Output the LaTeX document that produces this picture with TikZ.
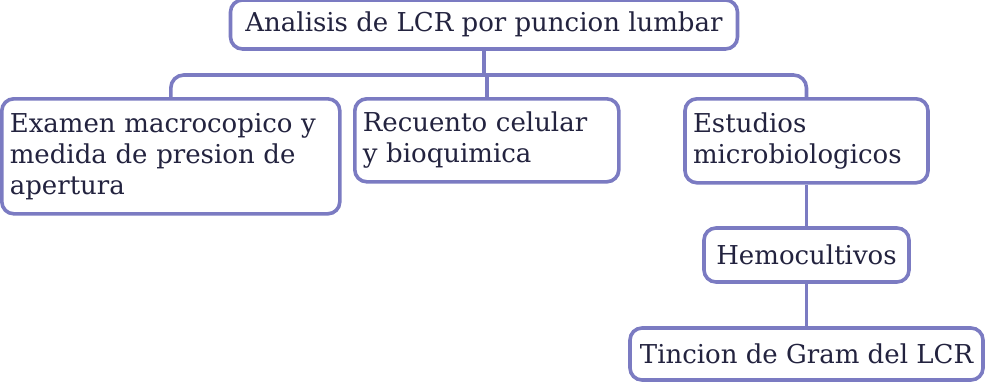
\documentclass[tikz,border=0pt]{standalone}
\usepackage{fontspec}
\setmainfont{DejaVu Serif}
\definecolor{edge}{HTML}{7B7BC2}
\definecolor{ink}{HTML}{23233F}
\begin{document}
\begin{tikzpicture}[x=1pt,y=1pt,
  box/.style={draw=edge, line width=3.6pt, fill=white, rounded corners=12pt, text=ink,
    font=\fontsize{26}{31}\selectfont, align=left, inner xsep=8pt, inner ysep=0pt},
  link/.style={draw=edge, line width=3.6pt, rounded corners=13pt}]
\useasboundingbox (0,0) rectangle (987,-381);
\node[box, minimum width=507pt, minimum height=49pt, align=center] (top) at (484,-24.5) {Analisis de LCR por puncion lumbar};
\node[box, minimum width=338pt, minimum height=115pt, text width=322pt, anchor=north west] (left) at (0,-97) {Examen macrocopico y\\medida de presion de\\apertura};
\node[box, minimum width=264pt, minimum height=83pt, text width=248pt, anchor=north west] (mid) at (353,-97) {Recuento celular\\y bioquimica};
\node[box, minimum width=243pt, minimum height=84pt, text width=227pt, anchor=north] (right) at (806.5,-97) {Estudios\\microbiologicos};
\node[box, minimum width=205pt, minimum height=54pt, align=center] (hemo) at (806.5,-255) {Hemocultivos};
\node[box, minimum width=353pt, minimum height=52pt, align=center] (gram) at (806.5,-354) {Tincion de Gram del LCR};
\coordinate (j) at (484,-75);
\draw[link] (left.north) |- (j) -| (right.north);
\draw[link] (top.south) -- (j);
\draw[link] (mid.north) -- (mid.north |- j);
\draw[link] (hemo.north |- right.south) -- (hemo.north);
\draw[link] (hemo.south) -- (gram.north);
\end{tikzpicture}
\end{document}
